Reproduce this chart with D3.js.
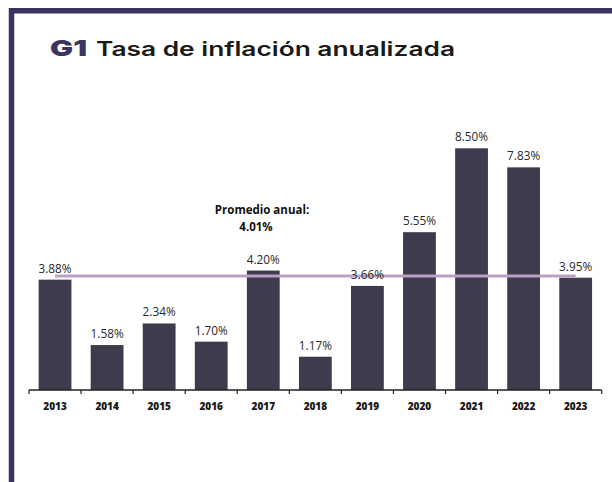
<!DOCTYPE html>
<html>
<head>
<meta charset="utf-8">
<script src="https://cdn.jsdelivr.net/npm/d3@7"></script>
<style>
  body { margin: 0; background: #ffffff; }
  svg { display: block; }
</style>
</head>
<body>
<svg id="drawing_region"></svg>
<script>
const years = ["2013","2014","2015","2016","2017","2018","2019","2020","2021","2022","2023"];
const rates = [3.88, 1.58, 2.34, 1.70, 4.20, 1.17, 3.66, 5.55, 8.50, 7.83, 3.95];
const average = 4.01;
const titleTag = "G1";
const titleText = "Tasa de inflación anualizada";
const avgLabel = ["Promedio anual:", "4.01%"];

class BarChart {

    constructor( config, data ) {
        this.config = config;
        this.data = data;
        this.init();
    }

    init() {
        let self = this;

        self.svg = d3.select( self.config.parent )
            .attr('width', self.config.width)
            .attr('height', self.config.height);

        // frame
        self.svg.append('path')
            .attr('d', `M11.5,${self.config.height} L11.5,10.8 L${self.config.width},10.8`)
            .attr('fill', 'none')
            .attr('stroke', '#3b3460')
            .attr('stroke-width', 5.5);

        self.chart = self.svg.append('g');

        self.xscale = d3.scaleBand()
            .range( [29, 601.7] )
            .paddingInner(0.37)
            .paddingOuter(0.185);

        self.yscale = d3.scaleLinear()
            .range( [390, 148.3] );

        self.xaxis = d3.axisBottom( self.xscale )
            .tickSizeOuter(0)
            .tickSizeInner(0);
    }

    update() {
        let self = this;
        self.xscale.domain( self.data.map( d => d.year ) );
        self.yscale.domain( [0, d3.max( self.data, d => d.value )] );
        self.render();
    }

    render() {
        let self = this;
        const x = self.xscale, y = self.yscale;

        self.chart.selectAll('rect.bar')
            .data(self.data)
            .join('rect')
            .attr('class', 'bar')
            .attr('x', d => x(d.year))
            .attr('y', d => y(d.value))
            .attr('width', x.bandwidth())
            .attr('height', d => y(0) - y(d.value))
            .attr('fill', '#3d3b4c');

        // average line
        const first = self.data[0].year, last = self.data[self.data.length-1].year;
        self.chart.append('line')
            .attr('x1', x(first) + x.bandwidth()/2)
            .attr('x2', x(last) + x.bandwidth()/2)
            .attr('y1', y(average))
            .attr('y2', y(average))
            .attr('stroke', '#b9a1c6')
            .attr('stroke-width', 3);

        self.chart.selectAll('text.val')
            .data(self.data)
            .join('text')
            .attr('class', 'val')
            .attr('x', d => x(d.year) + x.bandwidth()/2)
            .attr('y', d => y(d.value) - 7)
            .attr('text-anchor', 'middle')
            .attr('font-family', 'Open Sans')
            .attr('font-size', '11.8px')
            .attr('fill', '#2a2a2a')
            .text(d => d.value.toFixed(2) + '%');

        // axis
        const axisG = self.chart.append('g')
            .attr('transform', `translate(0, ${y(0)})`)
            .call( self.xaxis );
        axisG.select('.domain').remove();
        axisG.append('line')
            .attr('x1', x.range()[0]).attr('x2', x.range()[1])
            .attr('stroke', '#222').attr('stroke-width', 1.3);
        const n = self.data.length;
        axisG.selectAll('line.tk')
            .data(d3.range(n + 1))
            .join('line')
            .attr('class', 'tk')
            .attr('x1', i => x.range()[0] + i * x.step())
            .attr('x2', i => x.range()[0] + i * x.step())
            .attr('y1', 0).attr('y2', 4)
            .attr('stroke', '#222').attr('stroke-width', 1.2);
        axisG.selectAll('.tick text')
            .attr('y', 13)
            .attr('font-family', 'Open Sans')
            .attr('font-weight', 800)
            .attr('font-size', '10px')
            .attr('fill', '#1a1a1a');

        // annotation
        self.chart.append('text')
            .attr('x', 262).attr('y', 214)
            .attr('text-anchor', 'middle')
            .attr('font-family', 'Open Sans')
            .attr('font-weight', 'bold')
            .attr('font-size', '11.5px')
            .attr('fill', '#111')
            .text(avgLabel[0]);
        self.chart.append('text')
            .attr('x', 256).attr('y', 231)
            .attr('text-anchor', 'middle')
            .attr('font-family', 'Open Sans')
            .attr('font-weight', 'bold')
            .attr('font-size', '11.5px')
            .attr('fill', '#111')
            .text(avgLabel[1]);

        // title
        self.svg.append('text')
            .attr('x', 50).attr('y', 56)
            .attr('font-family', 'Inter')
            .attr('font-weight', 900)
            .attr('font-size', '22px')
            .attr('fill', '#3b3460')
            .attr('textLength', 37)
            .attr('lengthAdjust', 'spacingAndGlyphs')
            .text(titleTag);
        self.svg.append('text')
            .attr('x', 96).attr('y', 56)
            .attr('font-family', 'Inter')
            .attr('font-weight', 600)
            .attr('font-size', '19.5px')
            .attr('fill', '#1a1a1a')
            .attr('textLength', 359)
            .attr('lengthAdjust', 'spacingAndGlyphs')
            .text(titleText);
    }
}

const data = years.map( (yr, i) => ({ year: yr, value: rates[i] }) );

const chart = new BarChart({
    parent: '#drawing_region',
    width: 612,
    height: 482
}, data );
chart.update();
</script>
</body>
</html>
